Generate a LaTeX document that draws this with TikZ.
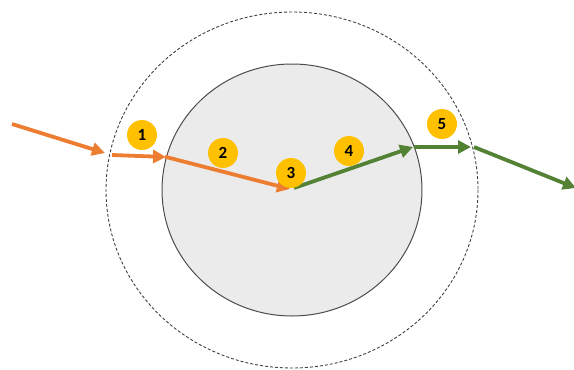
\documentclass[tikz,border=0pt]{standalone}
\usepackage{fontspec}
\setmainfont{Carlito}
\usetikzlibrary{arrows.meta}
\definecolor{orng}{HTML}{ED7D31}
\definecolor{grn}{HTML}{548235}
\definecolor{badge}{HTML}{FFC000}
\definecolor{medium}{HTML}{EBEBEB}
\tikzset{
  ray/.style={line width=3.8pt, -{Triangle[length=13pt,width=13pt]}},
  orray/.style={ray, draw=orng},
  gnray/.style={ray, draw=grn},
  badgenode/.style={circle, fill=badge, minimum size=30pt, inner sep=0pt, font=\bfseries\fontsize{17}{17}\selectfont},
}
\begin{document}
\begin{tikzpicture}[x=1pt,y=-1pt]
\useasboundingbox (0,0) rectangle (574,370);
% outer dashed boundary
\draw[black!75, dash pattern=on 3pt off 2pt, line width=0.9pt] (292,190) ellipse [x radius=186, y radius=178];
% inner medium
\filldraw[fill=medium, draw=black!70, line width=1pt] (292,190) ellipse [x radius=130, y radius=126];
% coordinates
\coordinate (s0) at (12,124);
\coordinate (e0) at (105,153);
\coordinate (s1) at (112,155);
\coordinate (e1) at (166,157);
\coordinate (e2) at (290,189);
\coordinate (s3) at (294,188);
\coordinate (e3) at (413,147);
\coordinate (s4) at (414,147);
\coordinate (e4) at (471,147);
\coordinate (s5) at (474,147);
\coordinate (e5) at (576,188);
% rays
\draw[orray] (s0) -- (e0);
\draw[orray] (s1) -- (e1);
\draw[orray, shorten <=-1pt] (e1) -- (e2);
\draw[gnray] (s3) -- (e3);
\draw[gnray] (s4) -- (e4);
\draw[gnray] (s5) -- (e5);
% badges
\node[badgenode] (b1) at (142,135) {1};
\node[badgenode] (b2) at (223,153) {2};
\node[badgenode] (b3) at (291,173) {3};
\node[badgenode] (b4) at (349,151) {4};
\node[badgenode] (b5) at (442,124) {5};
\end{tikzpicture}
\end{document}
